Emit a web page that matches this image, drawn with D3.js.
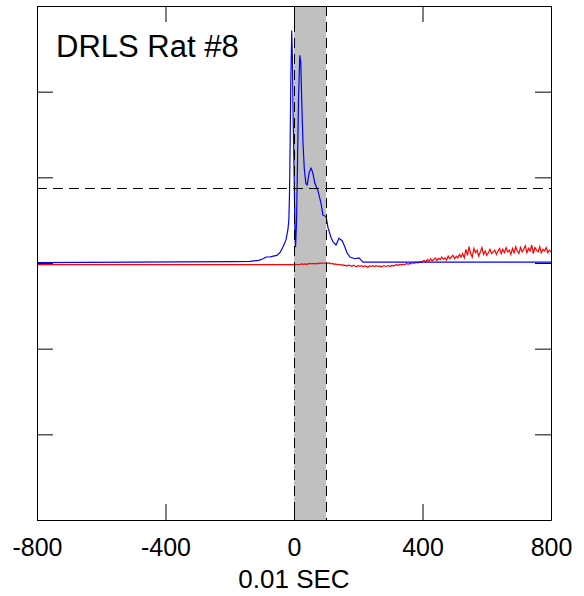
<!DOCTYPE html>
<html>
<head>
<meta charset="utf-8">
<script src="https://cdn.jsdelivr.net/npm/d3@7"></script>
<style>
  html, body { margin: 0; padding: 0; background: #fff; }
  svg { display: block; font-family: Arial, "Liberation Sans", sans-serif; }
</style>
</head>
<body>
<svg id="chart" width="584" height="596"></svg>
<script>
// axis setup
const xTicks = [-800, -400, 0, 400, 800];
const yTicks = [-300, -200, -100, 0, 100, 200, 300];
const stimWindow = [0, 100];
const threshold = 87.5;
const title = "DRLS Rat #8";
const xLabel = "0.01 SEC";

// blue trace, [time, value]
const bluePoints = [
  [-800, 0.5], [-500, 1], [-200, 1.5], [-137, 2], [-110, 3], [-96, 5], [-87, 7],
  [-75, 7], [-65, 8], [-53, 9], [-44, 12], [-34, 19], [-25, 27], [-19, 39],
  [-16, 50], [-14, 80], [-12, 140], [-10, 210], [-7, 271], [-5, 240], [-3, 180],
  [0, 110], [3, 40], [5, 19], [8, 50], [11, 120], [14, 190], [18, 242], [21, 235],
  [24, 190], [28, 140], [32, 110], [37, 93], [41, 91], [47, 105], [53, 111],
  [58, 106], [65, 93], [74, 85], [84, 70], [90, 56], [100, 54], [106, 41],
  [115, 30], [121, 25], [131, 21], [140, 29], [150, 26], [159, 18], [165, 12],
  [174, 7], [190, 5], [202, 6], [215, 1], [400, 1], [800, 1]
];

// red trace: flat before stimulus, then sampled every 5 units from 0 to 800
const redLead = [[-800, -2]];
const redStep = 5;
const redValues = [
  -2, -2, -1.5, -2, -1.5, -1, -1.5, -1, -1.5, -1, -0.5, -1, -0.5, -1, -0.5, -1, 0, -0.5, 0, -0.5, 0,
  -0.5, 0, -1, -0.5, -1.5, -1, -2, -1.5, -2.5, -2, -3, -2.5, -3.5, -2.5, -3, -4, -2.5, -3.5, -4.5, -3,
  -4, -3, -4.5, -3.5, -4, -5, -3.5, -4, -3, -4.5,
  -3, -4, -3.5, -4.5, -4, -3, -4, -3.5, -3, -4, -2.5, -3.5, -2.5, -2, -3, -1.5, -2.5, -1.5, -2, -0.5,
  -1.5, -0.5, -1, 0.5, -0.5, 1, 0, 1.5, 0.5, 2,
  3, 1, 4, 2, 5, 2.5, 4, 6, 3, 5.5, 4, 7, 4.5, 6, 3.5, 8, 5, 7, 9, 5, 8, 6, 10, 7, 11, 6,
  16, 9, 19, 11, 7, 17, 12, 15, 8, 13, 18, 10, 14, 9, 12, 16, 11, 13, 15, 10,
  14, 17, 11, 16, 12, 18, 13, 15, 10, 17, 12, 19, 14, 11, 18, 13, 16, 20, 12, 17,
  14, 21, 11, 18, 15, 13, 19, 12, 16, 14, 18, 12, 15, 13
];

const width = 584, height = 596;
const margin = { top: 6, right: 33, bottom: 76, left: 37 };
const innerW = width - margin.left - margin.right;
const innerH = height - margin.top - margin.bottom;

const svg = d3.select("#chart");
const g = svg.append("g").attr("transform", `translate(${margin.left},${margin.top})`);

const x = d3.scaleLinear().domain([-800, 800]).range([0, innerW]);
const y = d3.scaleLinear().domain([-300, 300]).range([innerH, 0]);

// shaded stimulus window
g.append("rect")
  .attr("x", x(stimWindow[0]))
  .attr("y", 0)
  .attr("width", x(stimWindow[1]) - x(stimWindow[0]))
  .attr("height", innerH)
  .attr("fill", "#c0c0c0");

const redPoints = redLead.concat(redValues.map((v, i) => [i * redStep, v]));

const line = d3.line().x((d) => x(d[0])).y((d) => y(d[1]));

g.append("path")
  .datum(redPoints)
  .attr("fill", "none")
  .attr("stroke", "#ff0000")
  .attr("stroke-width", 1.2)
  .attr("d", line);

g.append("path")
  .datum(bluePoints)
  .attr("fill", "none")
  .attr("stroke", "#0000ff")
  .attr("stroke-width", 1.2)
  .attr("stroke-linejoin", "round")
  .attr("d", line);

// dashed reference lines
g.append("line")
  .attr("x1", 0).attr("x2", innerW)
  .attr("y1", y(threshold)).attr("y2", y(threshold))
  .attr("stroke", "#000").attr("stroke-dasharray", "10,6")
  .attr("shape-rendering", "crispEdges");

g.selectAll("line.win")
  .data(stimWindow)
  .join("line")
  .attr("class", "win")
  .attr("x1", (d) => x(d)).attr("x2", (d) => x(d))
  .attr("y1", 0).attr("y2", innerH)
  .attr("stroke", "#000").attr("stroke-dasharray", "10,6")
  .attr("shape-rendering", "crispEdges");

// axes, ticks pointing inward
const tick = -16;
g.append("g")
  .attr("transform", `translate(0,${innerH})`)
  .call(d3.axisBottom(x).tickValues(xTicks).tickSize(tick).tickSizeOuter(0)
    .tickPadding(18).tickFormat((d) => String(d)))
  .call((s) => s.selectAll("text").style("font-size", "25px").attr("fill", "#000"));

g.append("g")
  .call(d3.axisTop(x).tickValues(xTicks).tickSize(tick).tickSizeOuter(0).tickFormat(""));

g.append("g")
  .call(d3.axisLeft(y).tickValues(yTicks).tickSize(tick).tickSizeOuter(0).tickFormat(""));

g.append("g")
  .attr("transform", `translate(${innerW},0)`)
  .call(d3.axisRight(y).tickValues(yTicks).tickSize(tick).tickSizeOuter(0).tickFormat(""));

// title and axis label
g.append("text")
  .attr("x", 19)
  .attr("y", 51)
  .style("font-size", "31px")
  .text(title);

svg.append("text")
  .attr("x", margin.left + x(0))
  .attr("y", 588)
  .attr("text-anchor", "middle")
  .style("font-size", "26px")
  .text(xLabel);
</script>
</body>
</html>
